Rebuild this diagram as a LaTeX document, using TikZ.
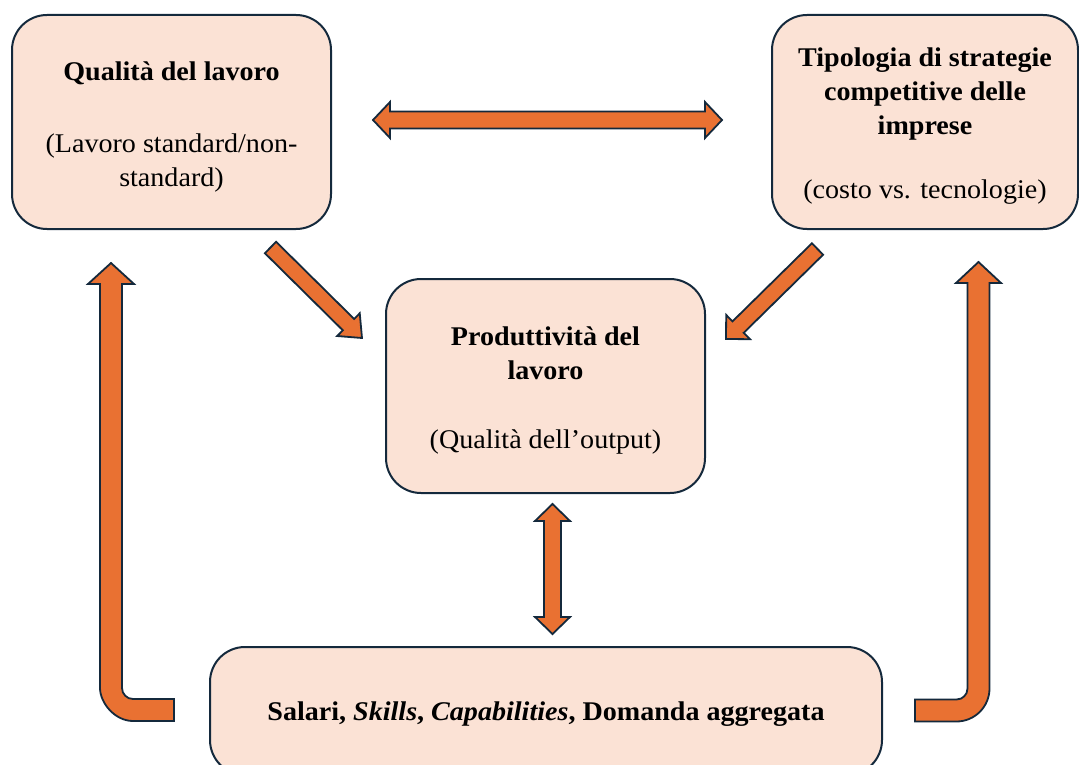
\documentclass[tikz,border=0pt]{standalone}
\usepackage{fontspec}
\setmainfont{Liberation Serif}[FakeStretch=1.04,
  UprightFont=*, BoldFont=* Bold, ItalicFont=* Italic, BoldItalicFont=* Bold Italic]
\usetikzlibrary{calc}
\definecolor{boxfill}{HTML}{FBE2D5}
\definecolor{edgecol}{HTML}{14293C}
\definecolor{orng}{HTML}{E97132}
\tikzset{
  box/.style={draw=edgecol, line width=2pt, fill=boxfill, rounded corners=35pt,
    align=center, font=\fontsize{27}{34}\selectfont, inner sep=0pt},
  barrow/.style={draw=edgecol, line width=1.8pt, fill=orng, line join=miter}
}
\newcommand\dblarrow[5]{%
  \coordinate (ha) at ($(#1)!#5!(#2)$);
  \coordinate (hb) at ($(#2)!#5!(#1)$);
  \draw[barrow] (#1) -- ($(ha)!#4!90:(#2)$) -- ($(ha)!#3!90:(#2)$)
    -- ($(hb)!#3!-90:(#1)$) -- ($(hb)!#4!-90:(#1)$) -- (#2)
    -- ($(hb)!#4!90:(#1)$) -- ($(hb)!#3!90:(#1)$)
    -- ($(ha)!#3!-90:(#2)$) -- ($(ha)!#4!-90:(#2)$) -- cycle;}
\newcommand\sglarrow[5]{%
  \coordinate (hb) at ($(#2)!#5!(#1)$);
  \draw[barrow] ($(#1)!#3!-90:(#2)$) -- ($(hb)!#3!90:(#1)$) -- ($(hb)!#4!90:(#1)$)
    -- (#2) -- ($(hb)!#4!-90:(#1)$) -- ($(hb)!#3!-90:(#1)$)
    -- ($(#1)!#3!90:(#2)$) -- cycle;}
\begin{document}
\begin{tikzpicture}[x=1pt,y=-1pt]
\useasboundingbox (0,0) rectangle (1079,765);
\begin{scope}
\clip (0,0) rectangle (1079,765);
% boxes
\node[box, minimum width=319pt, minimum height=214pt] (qual) at (171.5,122)
  {\rule{0pt}{28pt}\textbf{Qualità del lavoro}\\[38pt](Lavoro standard/non-\\standard)};
\node[box, minimum width=306pt, minimum height=214pt] (tipo) at (925,122)
  {\rule{0pt}{27pt}\textbf{Tipologia di strategie}\\\textbf{competitive delle}\\\textbf{imprese}\\[30pt](costo vs. tecnologie)};
\node[box, minimum width=319pt, minimum height=214pt] (prod) at (545.5,386)
  {\rule{0pt}{28pt}\textbf{Produttività del}\\\textbf{lavoro}\\[35pt](Qualità dell’output)};
\node[box, minimum width=672pt, minimum height=128pt] (sal) at (546,711)
  {\rule{0pt}{24pt}\textbf{Salari, \textit{Skills}, \textit{Capabilities}, Domanda aggregata}};
% straight arrows
\coordinate (hL) at (373,120);
\coordinate (hR) at (722,120);
\dblarrow{hL}{hR}{8.5pt}{18pt}{17pt}
\coordinate (vT) at (552.5,504);
\coordinate (vB) at (552.5,634);
\dblarrow{vT}{vB}{8.5pt}{17.5pt}{17pt}
\coordinate (dlA) at (270.5,247.5);
\coordinate (dlB) at (362,338);
\sglarrow{dlA}{dlB}{8pt}{16pt}{19pt}
\coordinate (drA) at (817.5,249);
\coordinate (drB) at (726,339);
\sglarrow{drA}{drB}{8pt}{17pt}{17pt}
% bent arrows
\draw[barrow] (174,721) -- (133,721) .. controls (114.8,721) and (100,702.8) .. (100,688)
  -- (100,284) -- (88,284) -- (111,263) -- (134,284) -- (122,284) -- (122,688)
  .. controls (122,694.1) and (126.9,699) .. (133,699) -- (174,699) -- cycle;
\draw[barrow] (915,721.5) -- (956.5,721.5) .. controls (974.7,721.5) and (989.5,706.7) .. (989.5,688.5)
  -- (989.5,283) -- (1001,283) -- (978.5,262) -- (956,283) -- (967.5,283) -- (967.5,688.5)
  .. controls (967.5,694.6) and (962.6,699.5) .. (956.5,699.5) -- (915,699.5) -- cycle;
\end{scope}
\end{tikzpicture}
\end{document}
